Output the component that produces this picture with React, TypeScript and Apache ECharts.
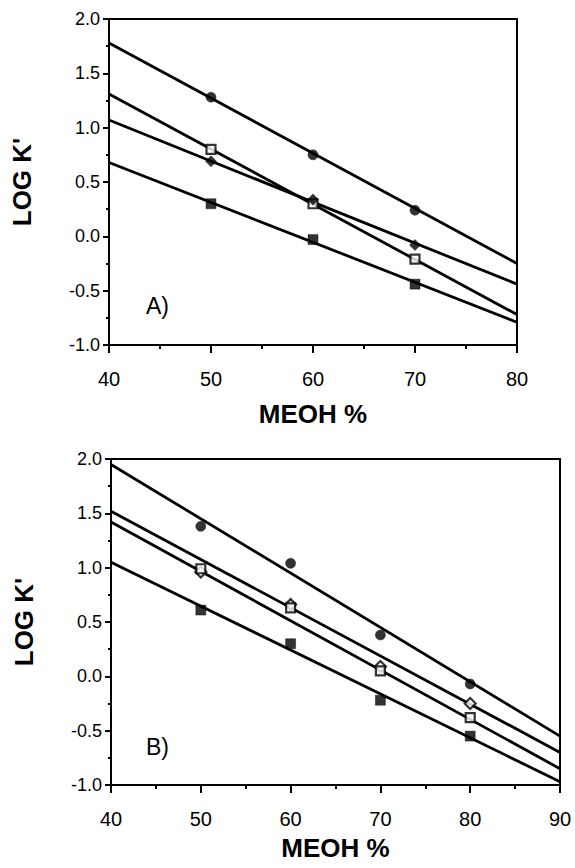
import React, { useEffect, useRef } from "react";
import * as echarts from "echarts";

// ---------- Data ----------
// Panel A (MEOH 40–80 %)
const xPointsA = [50, 60, 70];
const fitXA = [40, 80];
const aFilledCircle = [1.28, 0.75, 0.24];
const aFilledCircleFit = [1.78, -0.25];
const aOpenSquare = [0.8, 0.3, -0.21];
const aOpenSquareFit = [1.31, -0.72];
const aFilledDiamond = [0.69, 0.34, -0.08];
const aFilledDiamondFit = [1.07, -0.44];
const aFilledSquare = [0.3, -0.03, -0.44];
const aFilledSquareFit = [0.68, -0.79];

// Panel B (MEOH 40–90 %)
const xPointsB = [50, 60, 70, 80];
const fitXB = [40, 90];
const bFilledCircle = [1.38, 1.04, 0.38, -0.07];
const bFilledCircleFit = [1.95, -0.55];
const bOpenDiamond = [0.96, 0.66, 0.09, -0.25];
const bOpenDiamondFit = [1.52, -0.7];
const bOpenSquare = [0.99, 0.63, 0.05, -0.38];
const bOpenSquareFit = [1.42, -0.85];
const bFilledSquare = [0.61, 0.3, -0.22, -0.55];
const bFilledSquareFit = [1.05, -0.97];

const yTickLabels = ["-1.0", "-0.5", "0.0", "0.5", "1.0", "1.5", "2.0"];
const xTickLabelsA = ["40", "50", "60", "70", "80"];
const xTickLabelsB = ["40", "50", "60", "70", "80", "90"];
const panelLabels = ["A)", "B)"];
const yTitle = "LOG K'";
const xTitle = "MEOH %";

const FONT = "'Liberation Sans', Arial, Helvetica, sans-serif";

function pair(xs: number[], ys: number[]) {
  return xs.map((x, i) => [x, ys[i]]);
}

function fitSeries(idx: number, xs: number[], ys: number[]) {
  return {
    type: "line",
    xAxisIndex: idx,
    yAxisIndex: idx,
    data: pair(xs, ys),
    symbol: "none",
    silent: true,
    lineStyle: { color: "#000", width: 2.8 },
    z: 2,
  };
}

function pointSeries(
  idx: number,
  xs: number[],
  ys: number[],
  symbol: string,
  filled: boolean,
  size: number
) {
  return {
    type: "scatter",
    xAxisIndex: idx,
    yAxisIndex: idx,
    data: pair(xs, ys),
    symbol,
    symbolSize: size,
    itemStyle: filled
      ? { color: "#000", borderColor: "#000", borderWidth: 0.5 }
      : { color: "#fff", borderColor: "#000", borderWidth: 2.2 },
    z: 5,
  };
}

function xAxisCfg(idx: number, max: number, labels: string[], gap: number) {
  return {
    type: "value",
    gridIndex: idx,
    min: 40,
    max,
    interval: 10,
    name: xTitle,
    nameLocation: "middle",
    nameGap: gap,
    nameTextStyle: { fontFamily: FONT, fontSize: 26, fontWeight: "bold", color: "#000" },
    axisLine: { show: true, onZero: false, lineStyle: { color: "#000", width: 2 } },
    axisTick: { show: true, inside: false, length: 8, lineStyle: { color: "#000", width: 2 } },
    minorTick: { show: true, splitNumber: 2, length: 4, lineStyle: { color: "#000", width: 2 } },
    splitLine: { show: false },
    axisLabel: {
      margin: 24,
      fontFamily: FONT,
      fontSize: 20,
      color: "#000",
      formatter: (v: number) => labels[Math.round((v - 40) / 10)] ?? "",
    },
  };
}

function yAxisCfg(idx: number) {
  return {
    type: "value",
    gridIndex: idx,
    min: -1,
    max: 2,
    interval: 0.5,
    name: yTitle,
    nameLocation: "middle",
    nameGap: 74,
    nameRotate: 90,
    nameTextStyle: { fontFamily: FONT, fontSize: 26, fontWeight: "bold", color: "#000" },
    axisLine: { show: true, onZero: false, lineStyle: { color: "#000", width: 2 } },
    axisTick: { show: true, inside: false, length: 6, lineStyle: { color: "#000", width: 2 } },
    minorTick: { show: true, splitNumber: 2, length: 3, lineStyle: { color: "#000", width: 2 } },
    splitLine: { show: false },
    axisLabel: {
      margin: 9,
      fontFamily: FONT,
      fontSize: 18,
      color: "#000",
      formatter: (v: number) => yTickLabels[Math.round((v + 1) / 0.5)] ?? "",
    },
  };
}

export default function App() {
  const ref = useRef<HTMLDivElement>(null);

  useEffect(() => {
    if (!ref.current) return;
    const chart = echarts.init(ref.current, null, { renderer: "svg" });
    const option = {
      animation: false,
      backgroundColor: "#fff",
      grid: [
        { left: 109, top: 19, width: 408, height: 326, show: true, borderColor: "#000", borderWidth: 2, backgroundColor: "transparent" },
        { left: 111, top: 459, width: 449, height: 326, show: true, borderColor: "#000", borderWidth: 2, backgroundColor: "transparent" },
      ],
      xAxis: [xAxisCfg(0, 80, xTickLabelsA, 56), xAxisCfg(1, 90, xTickLabelsB, 50)],
      yAxis: [yAxisCfg(0), yAxisCfg(1)],
      graphic: [
        { type: "text", left: 146, top: 294, style: { text: panelLabels[0], fontFamily: FONT, fontSize: 23, fill: "#000" } },
        { type: "text", left: 146, top: 735, style: { text: panelLabels[1], fontFamily: FONT, fontSize: 23, fill: "#000" } },
      ],
      series: [
        fitSeries(0, fitXA, aFilledCircleFit),
        fitSeries(0, fitXA, aOpenSquareFit),
        fitSeries(0, fitXA, aFilledDiamondFit),
        fitSeries(0, fitXA, aFilledSquareFit),
        pointSeries(0, xPointsA, aFilledCircle, "circle", true, 10),
        pointSeries(0, xPointsA, aOpenSquare, "rect", false, 9),
        pointSeries(0, xPointsA, aFilledDiamond, "diamond", true, 11),
        pointSeries(0, xPointsA, aFilledSquare, "rect", true, 10),
        fitSeries(1, fitXB, bFilledCircleFit),
        fitSeries(1, fitXB, bOpenDiamondFit),
        fitSeries(1, fitXB, bOpenSquareFit),
        fitSeries(1, fitXB, bFilledSquareFit),
        pointSeries(1, xPointsB, bFilledCircle, "circle", true, 10),
        pointSeries(1, xPointsB, bOpenDiamond, "diamond", false, 11),
        pointSeries(1, xPointsB, bOpenSquare, "rect", false, 9),
        pointSeries(1, xPointsB, bFilledSquare, "rect", true, 10),
      ],
    };
    chart.setOption(option as any);
    return () => chart.dispose();
  }, []);

  return (
    <div
      ref={ref}
      style={{ position: "fixed", left: 0, top: 0, width: 575, height: 868, background: "#fff" }}
    />
  );
}
